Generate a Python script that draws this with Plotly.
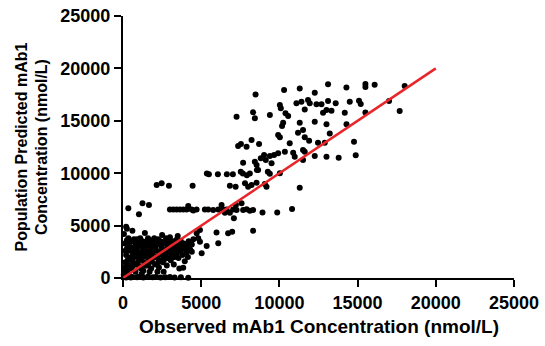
import plotly.graph_objects as go

# Observed (x) vs population predicted (y) mAb1 concentration, nmol/L
upper = [(13110,18480),(14285,18175),(15500,18510),(15500,18220),(16090,18440),(18010,18320),
         (12260,17680),(11300,18080),(11410,16820),(11830,16980),(11940,16670),(12370,16570),
         (12690,16570),(13110,16890),(13600,16670),(14500,16820),(15090,16910),(15200,16600),
         (17010,16890),(11620,16090),(12790,15770),(13010,16030),(13330,15960),(14180,15770),
         (15500,15790),(17690,15930),(11300,14820),(12260,14910),(13010,14660),(14290,14660),
         (11510,14120),(11620,13420),(11900,13100),(13220,13800),(12470,12910),(12900,12910),
         (14770,13000),(11510,12210),(11620,12050),(12260,11640),(13010,11570),(13790,11480),
         (14880,11710)]
middle = [(8475,17520),(10300,17940),(7260,15390),(8320,15810),(8430,15240),(9390,15550),
          (10030,16500),(10090,16190),(10390,15710),(10560,15450),(11090,16670),(10240,14820),
          (10170,14500),(9920,13640),(10030,13420),(11190,13860),(10660,12850),(7360,12590),
          (7540,12780),(7900,12530),(8220,13170),(8700,12780),(9020,11730),(8810,11420),
          (9390,11640),(9660,11730),(9920,11900),(10350,12050),(10880,11950),(10980,11570),
          (7680,11000),(8430,11100),(8540,10780),(9130,11260),(9500,10940),(11510,11260),
          (8640,10300)]
row10k = [(5364,9970),(5492,9900),(6067,9900),(6640,9900),(7025,9900),(7530,10150),(7663,9970),
          (7919,9800),(8110,9970),(8557,10300),(9260,10130),(9388,9940),(10030,9990)]
row9k = [(2152,8870),(2471,9030),(2938,8800),(4451,8800),(6833,8805),(7200,8710),(7800,9030),
         (8002,8710),(8219,8870),(8538,9092),(9068,8968),(9177,8710),(11300,8610)]
row6k = [(340,6650),(1020,6080),(1245,7130),(1660,6960),(3000,6535),(3212,6535),(3429,6535),
         (3640,6535),(3851,6535),(4068,6535),(4170,6870),(4387,6535),(4495,6440),(4706,6535),
         (5236,6535),(5447,6535),(5767,6480),(6086,6535),(6303,6970),(6405,6535),(6514,6230),
         (6622,6535),(6833,6230),(7044,6535),(7261,6480),(7220,6970),(7580,7130),(7680,6490),
         (7900,6550),(8110,6420),(8320,6490),(8920,6250),(9860,6250),(10810,6580),(7090,5700)]
lower = [(4920,4580),(4710,4260),(5980,4340),(6720,4260),(6980,4420),(8320,4510),(4810,3790),
         (4920,3460),(5350,3050),(6090,3310),(5030,2360),(4170,30),(3850,980),
         (200,4900),(600,4500),(1400,4300),(2500,4100),(3500,4000)]
cluster = [(50,300),(100,800),(150,1500),(200,2200),(250,2800),(120,3300),(300,500),(350,1200),
           (400,1900),(450,2600),(80,100),(200,50),(380,3000),(60,4200),(250,4700),(420,200),
           (180,1100),(300,1700),
           (550,900),(600,1600),(650,2300),(700,2900),(750,3400),(800,600),(850,1300),(900,2000),
           (950,2600),(600,100),(900,80),(700,3700),(980,3100),(530,2000),
           (1050,1100),(1100,1800),(1150,2400),(1200,3000),(1250,3500),(1300,700),(1350,1500),
           (1400,2200),(1450,2800),(1100,3800),(1300,50),(1480,3300),(1200,400),
           (1550,1200),(1600,1900),(1650,2500),(1700,3100),(1750,3600),(1800,900),(1850,1600),
           (1900,2300),(1950,2900),(1600,150),(1900,3400),(1700,600),(2000,3800),
           (2050,1300),(2100,2000),(2150,2600),(2200,3200),(2250,3700),(2300,1000),(2350,1700),
           (2400,2400),(2450,3000),(2100,100),(2400,3500),(2200,600),
           (2550,1500),(2600,2100),(2650,2700),(2700,3300),(2750,3800),(2800,1200),(2850,1900),
           (2900,2500),(2950,3100),(2700,80),(2600,600),
           (3050,1700),(3100,2300),(3150,2900),(3200,3500),(3250,1300),(3300,2000),(3350,2600),
           (3400,3200),(3450,3700),(3300,50),
           (3550,1900),(3600,2500),(3650,3000),(3700,3500),(3800,2200),(3850,2800),(3900,3300),
           (3950,1600),(3600,900),
           (4050,2400),(4100,3000),(4200,3500),(4300,2700),(4400,3200),(4500,3700),(4150,2000)]
cluster_fill = [(150,2600),(250,3600),(400,1000),(450,3400),(500,2900),(650,1200),(700,2000),
                (750,2600),(850,3200),(950,1500),(1000,2300),(1050,3400),(1150,900),(1250,2000),
                (1300,2600),(1350,3200),(1450,1200),(1500,2400),(1550,3500),(1650,1400),
                (1700,2200),(1800,2700),(1850,3300),(1950,2000),(2050,2900),(2150,3500),
                (2250,1500),(2300,2200),(2500,2700),(2550,3400),(2650,1800),(2750,2300),
                (2850,2900),(2950,3500),(3050,2600),(3150,2000),(3250,3100),(3400,2300),
                (3500,2800),(3700,2700),(3750,3200),(4000,2800),(4250,3100),(4400,2500),
                (500,50),(1000,120),(1900,60),(2400,50),(3000,100),(3700,60),(350,3800),
                (900,3700),(1600,3800),(3000,3900)]

groups = [upper, middle, row10k, row9k, row6k, lower, cluster, cluster_fill]
observed = [p[0] for g in groups for p in g]
predicted = [p[1] for g in groups for p in g]

identity_x = [0, 20000]
identity_y = [0, 20000]

tick_vals = [0, 5000, 10000, 15000, 20000, 25000]
x_title = "Observed mAb1 Concentration (nmol/L)"
y_title = "Population Predicted mAb1<br>Concentration (nmol/L)"

FONT = "Arial, Liberation Sans, sans-serif"

fig = go.Figure()
fig.add_trace(go.Scatter(x=observed, y=predicted, mode="markers",
                         marker=dict(color="black", size=6), cliponaxis=False,
                         showlegend=False))
fig.add_trace(go.Scatter(x=identity_x, y=identity_y, mode="lines",
                         line=dict(color="#e8262a", width=2.5), cliponaxis=False,
                         showlegend=False))

axis_common = dict(range=[0, 25000], tickvals=tick_vals, tickformat="d", automargin=False,
                   showgrid=False, zeroline=False, showline=True, linecolor="black",
                   linewidth=2, ticks="outside", ticklen=7, tickwidth=2, tickcolor="black",
                   tickfont=dict(family=FONT, size=18, color="black", weight="bold"))
fig.update_xaxes(**axis_common)
fig.update_yaxes(**axis_common)

fig.update_layout(
    template="none",
    width=545, height=346,
    margin=dict(l=123, r=31, t=16, b=68, autoexpand=False),
    plot_bgcolor="white", paper_bgcolor="white",
    annotations=[
        dict(text=x_title, xref="paper", yref="paper", x=0.5, y=-0.187,
             xanchor="center", yanchor="middle", showarrow=False,
             font=dict(family=FONT, size=19, color="black", weight="bold")),
        dict(text=y_title, xref="paper", yref="paper", x=-0.234, y=0.5,
             xanchor="center", yanchor="middle", showarrow=False, textangle=-90,
             font=dict(family=FONT, size=16, color="black", weight="bold")),
    ],
)

fig.write_html("out.html")
